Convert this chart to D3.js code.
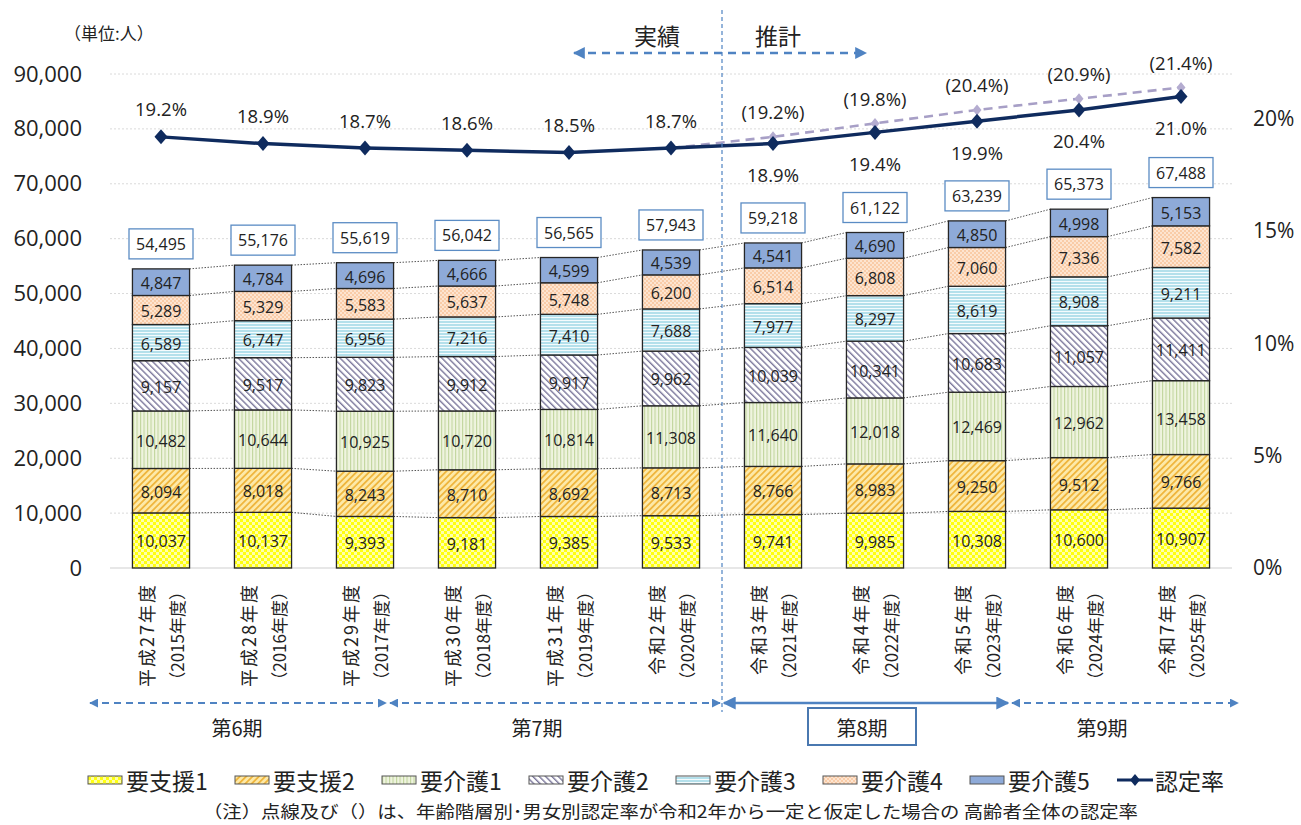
<!DOCTYPE html>
<html>
<head>
<meta charset="utf-8">
<script src="https://cdn.jsdelivr.net/npm/d3@7"></script>
<style>
  body { margin: 0; background: #fff; }
  text { font-family: "Open Sans", "Noto Sans CJK JP", sans-serif; fill: #222; }
  .jp { font-family: "Noto Sans CJK JP", sans-serif; }
</style>
</head>
<body>
<div class="chart"></div>
<script>
// categories (fiscal years)
const catWareki = ["平成27年度", "平成28年度", "平成29年度", "平成30年度", "平成31年度", "令和2年度",
    "令和3年度", "令和4年度", "令和5年度", "令和6年度", "令和7年度"];
const catSeireki = ["（2015年度）", "（2016年度）", "（2017年度）", "（2018年度）", "（2019年度）", "（2020年度）",
    "（2021年度）", "（2022年度）", "（2023年度）", "（2024年度）", "（2025年度）"];

// series (number of people)
const seriesNames = ["要支援1", "要支援2", "要介護1", "要介護2", "要介護3", "要介護4", "要介護5"];
const shien1 = [10037, 10137, 9393, 9181, 9385, 9533, 9741, 9985, 10308, 10600, 10907];
const shien2 = [8094, 8018, 8243, 8710, 8692, 8713, 8766, 8983, 9250, 9512, 9766];
const kaigo1 = [10482, 10644, 10925, 10720, 10814, 11308, 11640, 12018, 12469, 12962, 13458];
const kaigo2 = [9157, 9517, 9823, 9912, 9917, 9962, 10039, 10341, 10683, 11057, 11411];
const kaigo3 = [6589, 6747, 6956, 7216, 7410, 7688, 7977, 8297, 8619, 8908, 9211];
const kaigo4 = [5289, 5329, 5583, 5637, 5748, 6200, 6514, 6808, 7060, 7336, 7582];
const kaigo5 = [4847, 4784, 4696, 4666, 4599, 4539, 4541, 4690, 4850, 4998, 5153];
const totals = [54495, 55176, 55619, 56042, 56565, 57943, 59218, 61122, 63239, 65373, 67488];

// certification rate (%)
const rate = [19.2, 18.9, 18.7, 18.6, 18.5, 18.7, 18.9, 19.4, 19.9, 20.4, 21.0];
const rateFixed = [null, null, null, null, null, 18.7, 19.2, 19.8, 20.4, 20.9, 21.4];

// axis ticks
const leftTicks = [0, 10000, 20000, 30000, 40000, 50000, 60000, 70000, 80000, 90000];
const rightTicks = [0, 5, 10, 15, 20];

// plan periods (annotation arrows under the axis)
const periods = [
    { label: "第6期", x0: 88, x1: 388, lx: 237, solid: false },
    { label: "第7期", x0: 388, x1: 722, lx: 537, solid: false },
    { label: "第8期", x0: 722, x1: 1010, lx: 862, solid: true },
    { label: "第9期", x0: 1010, x1: 1240, lx: 1102, solid: false }
];

const width = 1301, height = 825;
const svg = d3.select(".chart").append("svg")
    .attr("width", width)
    .attr("height", height);

const x = d3.scaleBand()
    .domain(catWareki)
    .range([110, 1232])
    .paddingInner(0.44)
    .paddingOuter(0.22);

const y = d3.scaleLinear().domain([0, 90000]).range([568, 74]);
const yR = d3.scaleLinear().domain([0, 22]).range([568, 74]);

// ---------- patterns ----------
const defs = svg.append("defs");

function pat(id, w, h, rot) {
    const p = defs.append("pattern").attr("id", id)
        .attr("patternUnits", "userSpaceOnUse")
        .attr("width", w).attr("height", h);
    if (rot) p.attr("patternTransform", "rotate(" + rot + ")");
    return p;
}
let p;
p = pat("p0", 6, 6);
p.append("rect").attr("width", 6).attr("height", 6).attr("fill", "#ffff10");
p.append("rect").attr("width", 3).attr("height", 3).attr("fill", "#ffffaa");
p.append("rect").attr("x", 3).attr("y", 3).attr("width", 3).attr("height", 3).attr("fill", "#ffffaa");

p = pat("p1", 4.5, 4.5, 45);
p.append("rect").attr("width", 4.5).attr("height", 4.5).attr("fill", "#fde9a8");
p.append("rect").attr("width", 1.8).attr("height", 4.5).attr("fill", "#efb63e");

p = pat("p2", 3.5, 4);
p.append("rect").attr("width", 3.5).attr("height", 4).attr("fill", "#eff4df");
p.append("rect").attr("width", 1.1).attr("height", 4).attr("fill", "#c2d59e");

p = pat("p3", 4.5, 4.5, -45);
p.append("rect").attr("width", 4.5).attr("height", 4.5).attr("fill", "#ffffff");
p.append("rect").attr("width", 1.4).attr("height", 4.5).attr("fill", "#7b779b");

p = pat("p4", 4, 3);
p.append("rect").attr("width", 4).attr("height", 3).attr("fill", "#b4e0eb");
p.append("rect").attr("y", 2).attr("width", 4).attr("height", 1).attr("fill", "#f4fbfd");

p = pat("p5", 4, 4);
p.append("rect").attr("width", 4).attr("height", 4).attr("fill", "#f9cca8");
p.append("circle").attr("cx", 1).attr("cy", 1).attr("r", 0.9).attr("fill", "#fff1e4");
p.append("circle").attr("cx", 3).attr("cy", 3).attr("r", 0.9).attr("fill", "#fff1e4");

const fills = ["url(#p0)", "url(#p1)", "url(#p2)", "url(#p3)", "url(#p4)", "url(#p5)", "#8eaad8"];

// ---------- gridlines ----------
svg.append("g").selectAll("line")
    .data(leftTicks)
    .join("line")
    .attr("x1", 110).attr("x2", 1232)
    .attr("y1", d => y(d)).attr("y2", d => y(d))
    .attr("stroke", d => d === 0 ? "#cfcfcf" : "#dadada")
    .attr("stroke-width", 1)
    .attr("stroke-dasharray", d => d === 0 ? null : "2,2");

// ---------- axes ----------
const axL = svg.append("g")
    .attr("transform", "translate(90,0)")
    .call(d3.axisLeft(y).tickValues(leftTicks).tickSize(0).tickPadding(8).tickFormat(d3.format(",")));
axL.select(".domain").remove();
axL.selectAll("text").style("font-size", "22px").style("font-family", "Open Sans").attr("fill", "#333");

const axR = svg.append("g")
    .attr("transform", "translate(1245,0)")
    .call(d3.axisRight(yR).tickValues(rightTicks).tickSize(0).tickPadding(8).tickFormat(d => d + "%"));
axR.select(".domain").remove();
axR.selectAll("text").style("font-size", "21px").style("font-family", "Open Sans").attr("fill", "#333");

svg.append("text").attr("class", "jp")
    .attr("x", 64).attr("y", 32)
    .attr("dominant-baseline", "central")
    .style("font-size", "17px")
    .text("（単位:人）");

// ---------- stacked bars ----------
const seriesData = [shien1, shien2, kaigo1, kaigo2, kaigo3, kaigo4, kaigo5];
const rows = catWareki.map((c, i) => {
    const r = { cat: c };
    seriesNames.forEach((s, k) => r[s] = seriesData[k][i]);
    return r;
});
const stack = d3.stack().keys(seriesNames)(rows);

// connector lines between bars
const conn = svg.append("g");
stack.forEach(layer => {
    for (let i = 0; i < layer.length - 1; i++) {
        conn.append("line")
            .attr("x1", x(catWareki[i]) + x.bandwidth())
            .attr("x2", x(catWareki[i + 1]))
            .attr("y1", y(layer[i][1]))
            .attr("y2", y(layer[i + 1][1]))
            .attr("stroke", "#555")
            .attr("stroke-width", 1)
            .attr("stroke-dasharray", "1.5,1.5");
    }
});

const barG = svg.append("g");
stack.forEach((layer, k) => {
    barG.append("g").selectAll("rect")
        .data(layer)
        .join("rect")
        .attr("x", d => x(d.data.cat))
        .attr("width", x.bandwidth())
        .attr("y", d => y(d[1]))
        .attr("height", d => y(d[0]) - y(d[1]))
        .attr("fill", fills[k])
        .attr("stroke", "#262626")
        .attr("stroke-width", 1.3);

    barG.append("g").selectAll("text")
        .data(layer)
        .join("text")
        .attr("x", d => x(d.data.cat) + x.bandwidth() / 2)
        .attr("y", d => (y(d[0]) + y(d[1])) / 2 + 1)
        .attr("text-anchor", "middle")
        .attr("dominant-baseline", "central")
        .style("font-size", "16px")
        .attr("fill", k === 6 ? "#1b2a48" : "#2b2b2b")
        .text(d => d3.format(",")(d[1] - d[0]));
});

// total boxes
const tot = svg.append("g").selectAll("g")
    .data(totals)
    .join("g")
    .attr("transform", (d, i) => "translate(" + (x(catWareki[i]) + x.bandwidth() / 2) + "," + (y(d) - 25) + ")");
tot.append("rect")
    .attr("x", -32).attr("y", -15).attr("width", 64).attr("height", 30)
    .attr("fill", "#fff").attr("stroke", "#5b8cc4").attr("stroke-width", 1.3);
tot.append("text")
    .attr("text-anchor", "middle").attr("dominant-baseline", "central")
    .style("font-size", "16px")
    .text(d => d3.format(",")(d));

// ---------- x labels ----------
const xl = svg.append("g").selectAll("g")
    .data(catWareki)
    .join("g")
    .attr("transform", d => "translate(" + (x(d) + x.bandwidth() / 2) + ",583) rotate(-90)");
xl.append("text").attr("class", "jp")
    .attr("y", -15).attr("text-anchor", "end").attr("dominant-baseline", "central")
    .style("font-size", "18px").style("letter-spacing", "2px")
    .text(d => d);
xl.append("text").attr("class", "jp")
    .attr("y", 15).attr("text-anchor", "end").attr("dominant-baseline", "central")
    .style("font-size", "17px")
    .text((d, i) => catSeireki[i]);

// ---------- rate lines ----------
function diamond(cx, cy, w, h) {
    return "M" + cx + "," + (cy - h) + "L" + (cx + w) + "," + cy + "L" + cx + "," + (cy + h) + "L" + (cx - w) + "," + cy + "Z";
}
const cx = i => x(catWareki[i]) + x.bandwidth() / 2;

const fixedPts = rateFixed.map((v, i) => ({ v, i })).filter(d => d.v !== null);
svg.append("path")
    .datum(fixedPts)
    .attr("fill", "none")
    .attr("stroke", "#a79fc6")
    .attr("stroke-width", 2.6)
    .attr("stroke-dasharray", "9,6")
    .attr("d", d3.line().x(d => cx(d.i)).y(d => yR(d.v)));
svg.append("g").selectAll("path")
    .data(fixedPts.slice(1))
    .join("path")
    .attr("d", d => diamond(cx(d.i), yR(d.v), 4.5, 5.5))
    .attr("fill", "#b4acd0");
svg.append("g").selectAll("text")
    .data(fixedPts.slice(1))
    .join("text")
    .attr("x", d => cx(d.i))
    .attr("y", d => yR(d.v) - 25)
    .attr("text-anchor", "middle").attr("dominant-baseline", "central")
    .style("font-size", "18.5px")
    .text(d => "(" + d.v.toFixed(1) + "%)");

svg.append("path")
    .datum(rate)
    .attr("fill", "none")
    .attr("stroke", "#0f2b5e")
    .attr("stroke-width", 3.5)
    .attr("d", d3.line().x((d, i) => cx(i)).y(d => yR(d)));
svg.append("g").selectAll("path")
    .data(rate)
    .join("path")
    .attr("d", (d, i) => diamond(cx(i), yR(d), 6.5, 7.5))
    .attr("fill", "#0f2b5e");
svg.append("g").selectAll("text")
    .data(rate)
    .join("text")
    .attr("x", (d, i) => cx(i))
    .attr("y", (d, i) => i < 6 ? yR(d) - 28 : yR(d) + 31)
    .attr("text-anchor", "middle").attr("dominant-baseline", "central")
    .style("font-size", "18.5px")
    .text(d => d.toFixed(1) + "%");

// ---------- 実績 / 推計 ----------
const blue = "#4f83c2";
defs.append("marker").attr("id", "ah")
    .attr("viewBox", "0 0 10 10").attr("refX", 9).attr("refY", 5)
    .attr("markerWidth", 5).attr("markerHeight", 5)
    .attr("markerUnits", "strokeWidth")
    .attr("orient", "auto-start-reverse")
    .append("path").attr("d", "M0,0L10,5L0,10Z").attr("fill", blue);

svg.append("line")
    .attr("x1", 722).attr("x2", 722).attr("y1", 10).attr("y2", 712)
    .attr("stroke", blue).attr("stroke-width", 1.2).attr("stroke-dasharray", "4,3");

svg.append("line")
    .attr("x1", 574).attr("x2", 866).attr("y1", 53).attr("y2", 53)
    .attr("stroke", blue).attr("stroke-width", 2.4).attr("stroke-dasharray", "8,6")
    .attr("marker-start", "url(#ah)").attr("marker-end", "url(#ah)");
svg.append("text").attr("class", "jp")
    .attr("x", 657).attr("y", 35).attr("text-anchor", "middle").attr("dominant-baseline", "central")
    .style("font-size", "23px").text("実績");
svg.append("text").attr("class", "jp")
    .attr("x", 778).attr("y", 35).attr("text-anchor", "middle").attr("dominant-baseline", "central")
    .style("font-size", "23px").text("推計");

// ---------- periods ----------
const per = svg.append("g").selectAll("g").data(periods).join("g");
per.append("line")
    .attr("x1", d => d.x0 + 2).attr("x2", d => d.x1 - 2)
    .attr("y1", 703).attr("y2", 703)
    .attr("stroke", blue)
    .attr("stroke-width", d => d.solid ? 2.6 : 1.8)
    .attr("stroke-dasharray", d => d.solid ? null : "7,5")
    .attr("marker-start", "url(#ah)").attr("marker-end", "url(#ah)");
per.filter(d => d.solid).append("rect")
    .attr("x", d => d.lx - 54).attr("y", 708)
    .attr("width", 108).attr("height", 37)
    .attr("fill", "#fff").attr("stroke", "#4a78b0").attr("stroke-width", 2);
per.append("text").attr("class", "jp")
    .attr("x", d => d.lx).attr("y", 727)
    .attr("text-anchor", "middle").attr("dominant-baseline", "central")
    .style("font-size", "20px")
    .text(d => d.label);

// ---------- legend ----------
const leg = svg.append("g").selectAll("g")
    .data(seriesNames.concat(["認定率"]))
    .join("g")
    .attr("transform", (d, i) => "translate(" + (88 + i * 147) + ",780)");
leg.filter((d, i) => i < 7).append("rect")
    .attr("x", 0).attr("y", -4).attr("width", 34).attr("height", 8)
    .attr("fill", (d, i) => fills[i]).attr("stroke", "#555").attr("stroke-width", 1);
const lineLeg = leg.filter((d, i) => i === 7);
lineLeg.append("line").attr("x1", 0).attr("x2", 36).attr("y1", 0).attr("y2", 0)
    .attr("stroke", "#0f2b5e").attr("stroke-width", 3);
lineLeg.append("path").attr("d", diamond(18, 0, 5, 6)).attr("fill", "#0f2b5e");
leg.append("text").attr("class", "jp")
    .attr("x", 38).attr("y", 0).attr("dominant-baseline", "central")
    .style("font-size", "23px")
    .text(d => d);

svg.append("text").attr("class", "jp")
    .attr("x", 203).attr("y", 810).attr("dominant-baseline", "central")
    .style("font-size", "17px")
    .attr("textLength", 935).attr("lengthAdjust", "spacingAndGlyphs")
    .text("（注）点線及び（）は、年齢階層別･男女別認定率が令和2年から一定と仮定した場合の 高齢者全体の認定率");
</script>
</body>
</html>
